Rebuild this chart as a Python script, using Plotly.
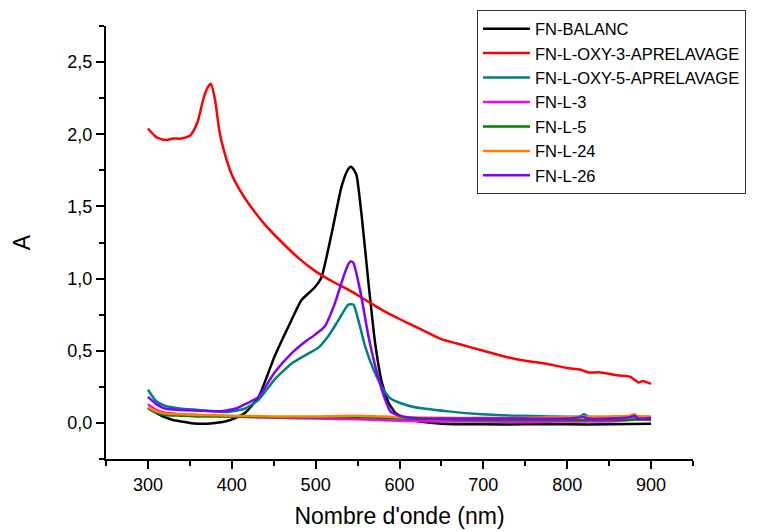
import plotly.graph_objects as go

# ---- data ----
balanc_wl = [300, 310, 320, 330, 340, 350, 360, 370, 380, 392, 405, 416, 432, 451, 471, 483, 499, 507, 519, 531, 538, 542, 546, 549, 555, 563, 571, 579, 587, 595, 610, 624, 650, 700, 750, 800, 850, 900]
balanc_a = [0.105, 0.07, 0.04, 0.02, 0.01, 0.0, -0.005, -0.005, 0.0, 0.01, 0.035, 0.07, 0.18, 0.46, 0.71, 0.85, 0.94, 1.01, 1.31, 1.64, 1.75, 1.775, 1.75, 1.71, 1.43, 0.97, 0.55, 0.28, 0.14, 0.07, 0.025, 0.01, -0.005, -0.01, -0.01, -0.01, -0.01, -0.005]

oxy3_wl = [300, 310, 320, 330, 340, 350, 355, 360, 365, 370, 375, 380, 385, 390, 400, 410, 420, 440, 460, 480, 500, 520, 540, 560, 580, 600, 625, 650, 675, 700, 725, 750, 775, 800, 815, 820, 825, 840, 860, 875, 880, 885, 890, 900]
oxy3_a = [2.04, 1.98, 1.96, 1.97, 1.97, 1.99, 2.03, 2.10, 2.22, 2.31, 2.35, 2.24, 2.03, 1.90, 1.72, 1.61, 1.52, 1.37, 1.25, 1.14, 1.05, 0.98, 0.92, 0.85, 0.78, 0.72, 0.65, 0.58, 0.54, 0.50, 0.46, 0.43, 0.41, 0.38, 0.37, 0.36, 0.35, 0.35, 0.33, 0.32, 0.30, 0.28, 0.29, 0.27]

oxy5_wl = [300, 310, 320, 338, 360, 380, 392, 405, 416, 432, 451, 471, 491, 503, 515, 527, 539, 545, 551, 559, 569, 581, 589, 600, 617, 658, 698, 740, 780, 815, 820, 825, 850, 880, 900]
oxy5_a = [0.23, 0.15, 0.12, 0.10, 0.09, 0.08, 0.075, 0.085, 0.10, 0.16, 0.30, 0.41, 0.48, 0.52, 0.60, 0.71, 0.82, 0.82, 0.71, 0.53, 0.37, 0.23, 0.17, 0.14, 0.11, 0.08, 0.06, 0.05, 0.045, 0.045, 0.06, 0.045, 0.04, 0.045, 0.04]

l3_wl = [300, 310, 320, 340, 360, 400, 450, 500, 550, 600, 650, 700, 750, 800, 850, 875, 880, 900]
l3_a = [0.13, 0.09, 0.07, 0.06, 0.055, 0.045, 0.035, 0.03, 0.025, 0.015, 0.01, 0.01, 0.005, 0.01, 0.01, 0.02, 0.025, 0.02]

l5_wl = [300, 310, 320, 340, 360, 400, 450, 500, 550, 600, 650, 700, 750, 800, 850, 900]
l5_a = [0.10, 0.07, 0.055, 0.05, 0.045, 0.045, 0.04, 0.04, 0.04, 0.03, 0.025, 0.02, 0.02, 0.02, 0.02, 0.025]

l24_wl = [300, 310, 320, 340, 360, 400, 450, 500, 550, 600, 650, 700, 750, 800, 850, 875, 880, 885, 900]
l24_a = [0.11, 0.08, 0.065, 0.06, 0.055, 0.05, 0.045, 0.045, 0.05, 0.04, 0.035, 0.035, 0.035, 0.04, 0.045, 0.05, 0.06, 0.045, 0.045]

l26_wl = [300, 310, 320, 338, 360, 380, 392, 405, 416, 432, 451, 471, 487, 499, 511, 523, 533, 539, 542, 545, 553, 563, 573, 583, 589, 600, 617, 650, 700, 750, 800, 820, 825, 850, 875, 880, 885, 900]
l26_a = [0.18, 0.13, 0.10, 0.09, 0.085, 0.08, 0.085, 0.10, 0.13, 0.18, 0.35, 0.48, 0.56, 0.61, 0.67, 0.83, 1.01, 1.10, 1.12, 1.11, 0.92, 0.60, 0.35, 0.16, 0.08, 0.05, 0.035, 0.03, 0.03, 0.03, 0.03, 0.04, 0.03, 0.03, 0.04, 0.05, 0.03, 0.035]

series = [
    ("FN-BALANC", balanc_wl, balanc_a, "#000000"),
    ("FN-L-OXY-3-APRELAVAGE", oxy3_wl, oxy3_a, "#FF0000"),
    ("FN-L-OXY-5-APRELAVAGE", oxy5_wl, oxy5_a, "#008080"),
    ("FN-L-3", l3_wl, l3_a, "#FF00FF"),
    ("FN-L-5", l5_wl, l5_a, "#008000"),
    ("FN-L-24", l24_wl, l24_a, "#FF8000"),
    ("FN-L-26", l26_wl, l26_a, "#8000FF"),
]

x_ticks = [300, 400, 500, 600, 700, 800, 900]
y_ticks = [0.0, 0.5, 1.0, 1.5, 2.0, 2.5]

fig = go.Figure()
for name, wl, a, col in series:
    fig.add_trace(go.Scatter(x=wl, y=a, mode="lines", name=name,
                             line=dict(color=col, width=2.5, shape="spline", smoothing=0.5)))

font_family = "Liberation Sans, Arial, sans-serif"
fig.update_layout(
    width=775, height=531,
    margin=dict(l=106, r=82, t=26, b=72, autoexpand=False),
    paper_bgcolor="white", plot_bgcolor="white",
    separators=", ",
    font=dict(family=font_family, color="black", size=18),
    showlegend=True,
    legend=dict(x=0.632, y=1.036, xanchor="left", yanchor="top",
                bordercolor="#333333", borderwidth=1, bgcolor="white",
                font=dict(size=16.5, family=font_family), tracegroupgap=0,
                itemwidth=47),
)
fig.update_xaxes(
    range=[250, 950], tickvals=x_ticks, ticks="outside", ticklen=8, tickwidth=2,
    tickcolor="black", showline=True, linecolor="black", linewidth=2,
    showgrid=False, zeroline=False, tickfont=dict(size=18),
    minor=dict(dtick=50, tick0=0, ticks="outside", ticklen=5, tickwidth=2, tickcolor="black", showgrid=False),
    title=dict(text="Nombre d'onde (nm)", font=dict(size=23), standoff=14),
)
fig.update_yaxes(
    range=[-0.25, 2.75], tickvals=y_ticks, tickformat=".1f", ticks="outside", ticklen=8, tickwidth=2,
    tickcolor="black", showline=True, linecolor="black", linewidth=2,
    showgrid=False, zeroline=False, tickfont=dict(size=18),
    minor=dict(dtick=0.25, tick0=0, ticks="outside", ticklen=5, tickwidth=2, tickcolor="black", showgrid=False),
    title=dict(text="A", font=dict(size=23), standoff=30),
)

fig.write_html("out.html", config={"displayModeBar": False},
               post_script="document.body.style.margin='0';document.body.style.overflow='hidden';")
